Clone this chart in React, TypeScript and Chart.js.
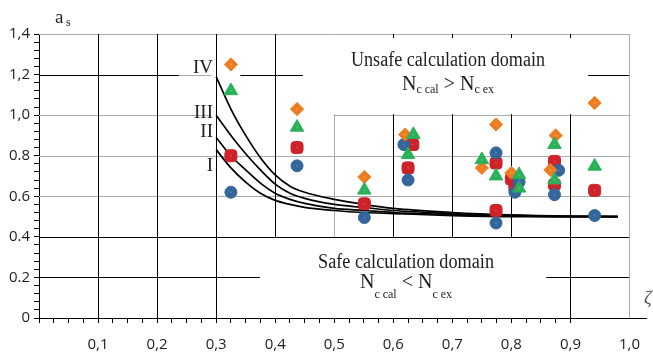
import React, { useEffect, useRef } from "react";
import { Chart, registerables } from "chart.js";

Chart.register(...registerables);

// ---- limit curves I – IV (a_s versus ζ) ----
const curveX = [0.30, 0.325, 0.35, 0.375, 0.40, 0.425, 0.45, 0.50, 0.55, 0.60, 0.70, 0.80, 0.90, 0.98];
const curveIV = [1.19, 1.03, 0.90, 0.79, 0.705, 0.65, 0.62, 0.585, 0.56, 0.54, 0.52, 0.508, 0.502, 0.50];
const curveIII = [1.00, 0.90, 0.81, 0.73, 0.66, 0.615, 0.59, 0.56, 0.545, 0.53, 0.515, 0.505, 0.50, 0.50];
const curveII = [0.89, 0.80, 0.73, 0.665, 0.615, 0.585, 0.565, 0.54, 0.53, 0.52, 0.51, 0.503, 0.50, 0.50];
const curveI = [0.83, 0.74, 0.67, 0.615, 0.58, 0.56, 0.545, 0.53, 0.52, 0.515, 0.505, 0.50, 0.50, 0.50];

// ---- scatter series ----
const blueX = [0.325, 0.437, 0.551, 0.618, 0.625, 0.774, 0.774, 0.806, 0.813, 0.880, 0.873, 0.941];
const blueY = [0.62, 0.75, 0.495, 0.855, 0.68, 0.814, 0.468, 0.62, 0.67, 0.728, 0.608, 0.505];
const redX = [0.325, 0.437, 0.551, 0.633, 0.625, 0.774, 0.774, 0.800, 0.806, 0.873, 0.873, 0.941];
const redY = [0.80, 0.84, 0.563, 0.855, 0.74, 0.764, 0.53, 0.685, 0.64, 0.772, 0.657, 0.629];
const greenX = [0.325, 0.437, 0.551, 0.634, 0.625, 0.750, 0.774, 0.813, 0.813, 0.873, 0.873, 0.941];
const greenY = [1.12, 0.94, 0.63, 0.904, 0.805, 0.78, 0.70, 0.706, 0.64, 0.855, 0.68, 0.748];
const orangeX = [0.325, 0.437, 0.551, 0.620, 0.750, 0.774, 0.800, 0.866, 0.875, 0.941];
const orangeY = [1.25, 1.03, 0.695, 0.904, 0.74, 0.954, 0.715, 0.73, 0.90, 1.06];

// ---- tick labels ----
const yMajorValues = [0, 0.2, 0.4, 0.6, 0.8, 1.0, 1.2, 1.4];
const yMajorLabels = ["0", "0.2", "0.4", "0.6", "0.8", "1,0", "1,2", "1,4"];
const xMajorValues = [0.1, 0.2, 0.3, 0.4, 0.5, 0.6, 0.7, 0.8, 0.9, 1.0];
const xMajorLabels = ["0,1", "0,2", "0,3", "0,4", "0,5", "0,6", "0,7", "0,8", "0,9", "1,0"];

const curveNames = ["IV", "III", "II", "I"];

const zip = (xs: number[], ys: number[]) => xs.map((x, i) => ({ x, y: ys[i] }));

const BLACK = "#000000";
const GRAY = "#ababab";

// grid segments (layout only) : horizontal [y, x1, x2, color], vertical [x, y1, y2, color]
const hSegs: [number, number, number, string][] = [
  [1.4, 0, 1, GRAY],
  [1.2, 0, 0.237, BLACK],
  [1.2, 0.237, 0.292, GRAY],
  [1.2, 0.341, 0.447, BLACK],
  [1.2, 0.93, 1.0, BLACK],
  [1.0, 0, 0.292, GRAY],
  [1.0, 0.5, 1.0, GRAY],
  [0.8, 0, 1, GRAY],
  [0.6, 0, 1, GRAY],
  [0.4, 0, 1, BLACK],
  [0.2, 0, 0.374, BLACK],
  [0.2, 0.859, 1.0, BLACK],
  [0, 1.0, 1.03, BLACK],
];
const vSegs: [number, number, number, string][] = [
  [0.1, 0, 1.4, BLACK],
  [0.2, 0, 1.4, BLACK],
  [0.3, 0, 1.4, BLACK],
  [0.4, 0.4, 1.4, BLACK],
  [0.5, 0.4, 1.005, GRAY],
  [0.6, 0.4, 1.005, BLACK],
  [0.6, 1.38, 1.4, BLACK],
  [0.7, 0.4, 1.005, BLACK],
  [0.7, 1.38, 1.4, BLACK],
  [0.8, 0.4, 1.005, BLACK],
  [0.8, 1.38, 1.4, BLACK],
  [0.9, 0, 1.005, BLACK],
  [0.9, 1.38, 1.4, BLACK],
  [1.0, 0, 1.4, GRAY],
];

const gridPlugin = {
  id: "customGrid",
  beforeDatasetsDraw(chart: any) {
    const { ctx, scales } = chart;
    const xs = scales.x;
    const ys = scales.y;
    ctx.save();
    ctx.lineWidth = 1;
    hSegs.forEach(([y, x1, x2, c]) => {
      const py = Math.round(ys.getPixelForValue(y)) + 0.5;
      ctx.strokeStyle = c;
      ctx.beginPath();
      ctx.moveTo(xs.getPixelForValue(x1), py);
      ctx.lineTo(xs.getPixelForValue(x2), py);
      ctx.stroke();
    });
    vSegs.forEach(([x, y1, y2, c]) => {
      const px = Math.round(xs.getPixelForValue(x)) + 0.5;
      ctx.strokeStyle = c;
      ctx.beginPath();
      ctx.moveTo(px, ys.getPixelForValue(y1));
      ctx.lineTo(px, ys.getPixelForValue(y2));
      ctx.stroke();
    });
    ctx.restore();
  },
};

const SERIF = "'Liberation Serif', 'Times New Roman', serif";

function drawSubText(
  ctx: CanvasRenderingContext2D,
  parts: { t: string; sub: boolean }[],
  cx: number,
  base: number,
  subDrop: number
) {
  const big = `20px ${SERIF}`;
  const small = `12px ${SERIF}`;
  let total = 0;
  const widths = parts.map((p) => {
    ctx.font = p.sub ? small : big;
    const w = ctx.measureText(p.t).width;
    total += w;
    return w;
  });
  let x = cx - total / 2;
  ctx.textAlign = "left";
  ctx.textBaseline = "alphabetic";
  parts.forEach((p, i) => {
    ctx.font = p.sub ? small : big;
    ctx.fillText(p.t, x, p.sub ? base + subDrop : base);
    x += widths[i];
  });
}

const textPlugin = {
  id: "annotText",
  beforeDatasetsDraw(chart: any) {
    const { ctx } = chart;
    ctx.save();
    ctx.fillStyle = "#1e1e1e";
    ctx.textAlign = "center";
    ctx.textBaseline = "alphabetic";
    ctx.font = `20px ${SERIF}`;
    ctx.fillText("Unsafe calculation domain", 448, 66, 194);
    drawSubText(
      ctx,
      [
        { t: "N", sub: false },
        { t: "c cal", sub: true },
        { t: " > ", sub: false },
        { t: "N", sub: false },
        { t: "c ex", sub: true },
      ],
      448,
      90,
      3
    );
    ctx.textAlign = "center";
    ctx.font = `20px ${SERIF}`;
    ctx.fillText("Safe calculation domain", 406, 268, 176);
    drawSubText(
      ctx,
      [
        { t: "N", sub: false },
        { t: "c cal", sub: true },
        { t: " < ", sub: false },
        { t: "N", sub: false },
        { t: "c ex", sub: true },
      ],
      406,
      288,
      10
    );

    // curve labels
    ctx.textAlign = "right";
    ctx.font = `19px ${SERIF}`;
    const ly = [73, 118, 137, 171];
    curveNames.forEach((n, i) => ctx.fillText(n, 213, ly[i]));

    // axis titles
    ctx.textAlign = "left";
    ctx.font = `19px ${SERIF}`;
    ctx.fillText("a", 55, 23);
    ctx.font = `12px ${SERIF}`;
    ctx.fillText("s", 66, 26);
    ctx.fillStyle = "#555";
    ctx.font = `italic 19px ${SERIF}`;
    ctx.fillText("ζ", 644, 304);
    ctx.restore();
  },
};

const centerDots = ["#45c272", "#f59a45", "#4d80b8", "#e04045"];

const dotPlugin = {
  id: "centerDots",
  afterDatasetsDraw(chart: any) {
    const { ctx } = chart;
    ctx.save();
    for (let i = 0; i < 4; i++) {
      const meta = chart.getDatasetMeta(i);
      ctx.fillStyle = centerDots[i];
      meta.data.forEach((el: any) => {
        ctx.beginPath();
        ctx.arc(el.x, el.y, 1.1, 0, Math.PI * 2);
        ctx.fill();
      });
    }
    ctx.restore();
  },
};

const near = (a: number, b: number) => Math.abs(a - b) < 1e-6;

export default function App() {
  const ref = useRef<HTMLCanvasElement | null>(null);

  useEffect(() => {
    document.body.style.margin = "0";
    const canvas = ref.current;
    if (!canvas) return;
    const tickFont = { family: "'Open Sans', sans-serif", size: 15 };
    const curveDs = (ys: number[]) => ({
      data: zip(curveX, ys),
      showLine: true,
      borderColor: "#000",
      borderWidth: 1.7,
      pointRadius: 0,
      cubicInterpolationMode: "monotone" as const,
      fill: false,
    });
    const scatterDs = (xs: number[], ys: number[], color: string, style: string, r: number) => ({
      data: zip(xs, ys),
      backgroundColor: color,
      borderColor: color,
      borderWidth: 1,
      pointStyle: style,
      pointRadius: r,
      showLine: false,
    });
    const chart = new Chart(canvas, {
      type: "scatter",
      data: {
        datasets: [
          scatterDs(greenX, greenY, "#2bb05a", "triangle", 7.8) as any,
          scatterDs(orangeX, orangeY, "#ee7d22", "rectRot", 6.6) as any,
          scatterDs(blueX, blueY, "#34659b", "circle", 6) as any,
          scatterDs(redX, redY, "#cd2229", "rectRounded", 7) as any,
          curveDs(curveIV),
          curveDs(curveIII),
          curveDs(curveII),
          curveDs(curveI),
        ],
      },
      options: {
        responsive: false,
        animation: false,
        layout: { padding: { top: 34, right: 18, left: 0, bottom: 0 } },
        plugins: { legend: { display: false }, tooltip: { enabled: false } },
        scales: {
          x: {
            type: "linear",
            min: 0,
            max: 1,
            afterFit: (s: any) => {
              s.height = 36;
            },
            ticks: {
              stepSize: 0.025,
              autoSkip: false,
              maxRotation: 0,
              minRotation: 0,
              padding: 13,
              color: "#1e1e1e",
              font: tickFont,
              callback: (v: any) => {
                const i = xMajorValues.findIndex((m) => near(m, Number(v)));
                return i >= 0 ? xMajorLabels[i] : "";
              },
            },
            grid: {
              drawOnChartArea: false,
              drawTicks: true,
              tickLength: 5,
              tickColor: (c: any) => (c.tick && c.tick.value <= 0.9 + 1e-6 ? "#000" : "rgba(0,0,0,0)"),
            },
            border: { display: true, color: "#000", width: 1 },
          },
          y: {
            type: "linear",
            min: 0,
            max: 1.4,
            afterFit: (s: any) => {
              s.width = 39;
            },
            ticks: {
              stepSize: 0.04,
              autoSkip: false,
              padding: 4,
              color: "#1e1e1e",
              font: tickFont,
              callback: (v: any) => {
                const i = yMajorValues.findIndex((m) => near(m, Number(v)));
                return i >= 0 ? yMajorLabels[i] : "";
              },
            },
            grid: {
              drawOnChartArea: false,
              drawTicks: true,
              tickLength: 5,
              tickColor: "#000",
            },
            border: { display: true, color: "#000", width: 1 },
          },
        },
      },
      plugins: [gridPlugin, textPlugin, dotPlugin],
    });
    return () => chart.destroy();
  }, []);

  return (
    <div style={{ width: 653, height: 354, position: "relative", background: "#fff" }}>
      <canvas ref={ref} width={653} height={354} style={{ display: "block" }} />
    </div>
  );
}
